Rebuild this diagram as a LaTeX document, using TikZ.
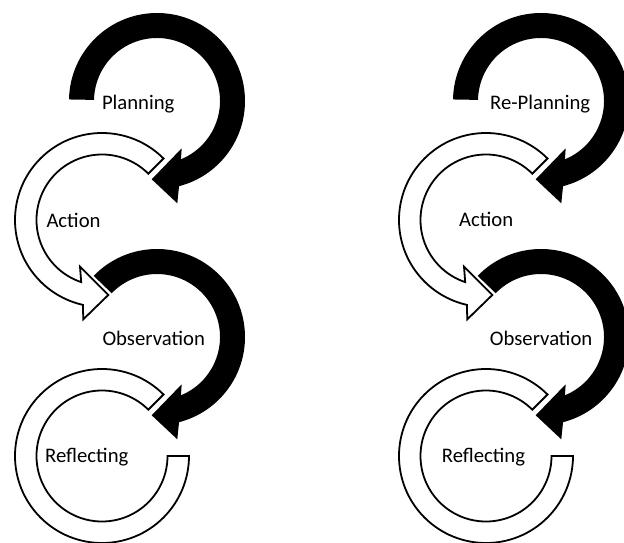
\documentclass[tikz,border=0pt]{standalone}
\usepackage{fontspec}
\setmainfont{Carlito}
\usetikzlibrary{calc}
\tikzset{
  lbl/.style={anchor=base west, inner sep=0pt, font=\fontsize{20.7}{24}\selectfont},
  wline/.style={draw=black, fill=white, line width=1.8pt, line join=miter},
  pics/blackarr/.style={code={
    \fill[black] (#1:88) arc[start angle=#1, end angle=435.5, radius=88]
      -- (20.3,102.3) -- (-5.3,78.3) -- (24.7,47.3) -- (427.7:63)
      arc[start angle=427.7, end angle=#1, radius=63] -- cycle;
  }},
  pics/whitearr/.style={code={
    \draw[wline] (-45:87) arc[start angle=-45, end angle=-257.3, radius=87]
      -- (-18.7,99.3) -- (6.3,75) -- (-22,46.7) -- (-251.5:65.5)
      arc[start angle=-251.5, end angle=-45, radius=65.5] -- cycle;
  }},
  pics/whitering/.style={code={
    \draw[wline] (-45:87) arc[start angle=-45, end angle=-360, radius=87]
      -- (0:65.5) arc[start angle=-360, end angle=-45, radius=65.5] -- cycle;
  }}
}
\begin{document}
\begin{tikzpicture}[x=1pt,y=-1pt]
\useasboundingbox (0,0) rectangle (624,543);
\clip (0,0) rectangle (624,543);
\fill[white] (0,0) rectangle (624,543);
% left cycle
\pic (plan) at (157,101) {blackarr=181};
\pic (obs) at (157,337) {blackarr=224};
\pic (act) at (102,220) {whitearr};
\pic (refl) at (102,456) {whitering};
% right cycle
\pic (rplan) at (541,101) {blackarr=181};
\pic (robs) at (541,337) {blackarr=224};
\pic (ract) at (486,220) {whitearr};
\pic (rrefl) at (486,456) {whitering};
% labels
\node[lbl] (tplan) at (101.8,109) {Planning};
\node[lbl] (tact) at (46.3,227.3) {Action};
\node[lbl] (tobs) at (102.3,345) {Observation};
\node[lbl] (trefl) at (45,462.7) {Reflecting};
\node[lbl] (trplan) at (490,109) {Re-Planning};
\node[lbl] (tract) at (459,226.7) {Action};
\node[lbl] (trobs) at (489.7,345) {Observation};
\node[lbl] (trrefl) at (441.7,462.5) {Reflecting};
\end{tikzpicture}
\end{document}
